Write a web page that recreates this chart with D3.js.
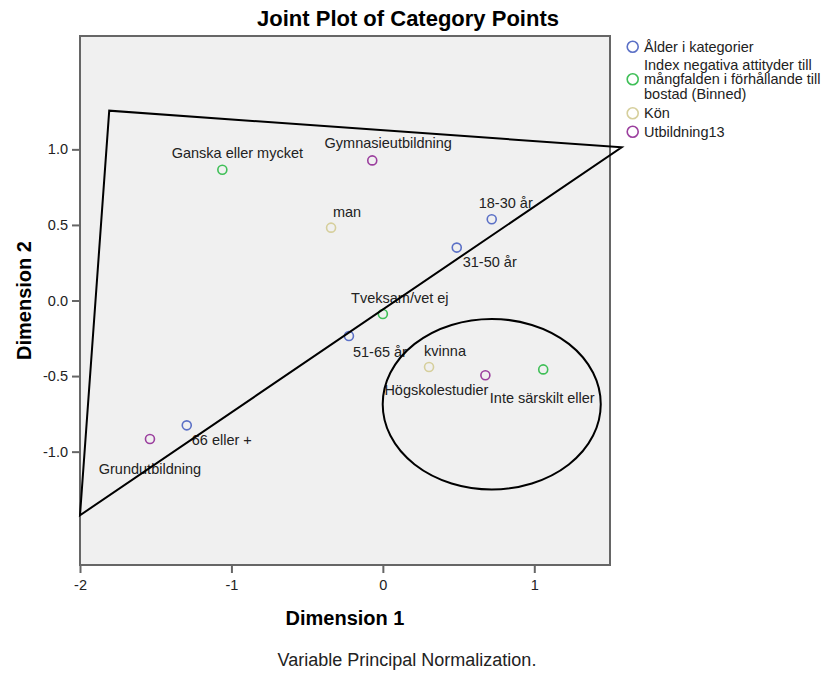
<!DOCTYPE html>
<html>
<head>
<meta charset="utf-8">
<script src="https://cdn.jsdelivr.net/npm/d3@7"></script>
<style>
body { margin:0; background:#fff; }
svg text { font-family: Arial, "Liberation Sans", sans-serif; }
</style>
</head>
<body>
<div id="chart"></div>
<script>
// variables (legend) and their colours
var variables = ["Ålder i kategorier", "Index negativa attityder till mångfalden i förhållande till bostad (Binned)", "Kön", "Utbildning13"];
var legendLines = [["Ålder i kategorier"], ["Index negativa attityder till", "mångfalden i förhållande till", "bostad (Binned)"], ["Kön"], ["Utbildning13"]];
var colors = ["#5b70c6", "#3fbf57", "#d6cf9c", "#9b3f9e"];

// category points
var labels = ["Ganska eller mycket", "Gymnasieutbildning", "man", "18-30 år", "31-50 år", "Tveksam/vet ej",
              "51-65 år", "66 eller +", "Grundutbildning", "kvinna", "Högskolestudier", "Inte särskilt eller"];
var group  = [1, 3, 2, 0, 0, 1, 0, 0, 3, 2, 3, 1];
var dim1   = [-1.060, -0.070, -0.342, 0.719, 0.488, 0.000, -0.224, -1.295, -1.538, 0.305, 0.677, 1.059];
var dim2   = [0.865, 0.927, 0.482, 0.538, 0.350, -0.089, -0.235, -0.826, -0.916, -0.440, -0.495, -0.456];
// where each label sits relative to its point (px)
var labelDx = [15, 16, 16, 14, 33, 17, 31, 35, 0, 16, -49, -1];
var labelDy = [-17, -17, -16, -16, 14, -16, 16, 15, 30, -16, 15, 29];

var xTicks = [-2, -1, 0, 1];
var yTicks = [-1.0, -0.5, 0.0, 0.5, 1.0];

// hand drawn annotations, in plot units
var triangle = [[-1.807, 1.256], [-2.0, -1.421], [1.577, 1.014]];
var ellipse = {cx: 0.719, cy: -0.686, rx: 0.720, ry: 0.564};

var svg = d3.select("#chart").append("svg")
    .attr("width", 828)
    .attr("height", 674);

var margin = {top: 36, left: 80},
    width = 530,
    height = 529;

var x = d3.scaleLinear().domain([-2, 1.5]).range([margin.left, margin.left + width]);
var y = d3.scaleLinear().domain([-1.75, 1.75]).range([margin.top + height, margin.top]);

// plain hyphen for negative numbers, like the original
var locale = d3.formatLocale({decimal: ".", thousands: ",", grouping: [3], currency: ["", ""], minus: "-"});

svg.append("rect")
    .attr("x", margin.left).attr("y", margin.top)
    .attr("width", width).attr("height", height)
    .attr("fill", "#f0f0f0")
    .attr("stroke", "#666").attr("stroke-width", 2);

var xAxis = d3.axisBottom(x).tickValues(xTicks).tickFormat(locale.format("d")).tickSize(8).tickPadding(6.5);
var yAxis = d3.axisLeft(y).tickValues(yTicks).tickFormat(locale.format(".1f")).tickSize(8).tickPadding(4);

var gx = svg.append("g")
    .attr("transform", "translate(0," + (margin.top + height) + ")")
    .call(xAxis);
var gy = svg.append("g")
    .attr("transform", "translate(" + margin.left + ",0)")
    .call(yAxis);

[gx, gy].forEach(function(g) {
  g.select(".domain").remove();
  g.selectAll(".tick line").attr("stroke", "#666").attr("stroke-width", 2);
  g.selectAll(".tick text").attr("fill", "#222").style("font-size", "14.5px")
    .style("font-family", "Arial, 'Liberation Sans', sans-serif");
});

// points
svg.append("g").selectAll("circle")
    .data(labels)
    .enter().append("circle")
    .attr("cx", function(d, i) { return x(dim1[i]); })
    .attr("cy", function(d, i) { return y(dim2[i]); })
    .attr("r", 4.5)
    .attr("fill", "none")
    .attr("stroke", function(d, i) { return colors[group[i]]; })
    .attr("stroke-width", 1.6);

svg.append("g").selectAll("text")
    .data(labels)
    .enter().append("text")
    .attr("x", function(d, i) { return x(dim1[i]) + labelDx[i]; })
    .attr("y", function(d, i) { return y(dim2[i]) + labelDy[i] + 5; })
    .attr("text-anchor", "middle")
    .attr("fill", "#222")
    .style("font-size", "14.5px")
    .text(function(d) { return d; });

// annotations drawn over the chart
svg.append("path")
    .datum(triangle)
    .attr("d", d3.line().x(function(d) { return x(d[0]); }).y(function(d) { return y(d[1]); }).curve(d3.curveLinearClosed))
    .attr("fill", "none").attr("stroke", "#000").attr("stroke-width", 2);

svg.append("ellipse")
    .attr("cx", x(ellipse.cx)).attr("cy", y(ellipse.cy))
    .attr("rx", x(ellipse.rx) - x(0)).attr("ry", y(0) - y(ellipse.ry))
    .attr("fill", "none").attr("stroke", "#000").attr("stroke-width", 2);

// titles
svg.append("text")
    .attr("x", 408).attr("y", 26)
    .attr("text-anchor", "middle")
    .style("font-size", "22px").style("font-weight", "bold")
    .text("Joint Plot of Category Points");

svg.append("text")
    .attr("x", margin.left + width / 2).attr("y", 625)
    .attr("text-anchor", "middle")
    .style("font-size", "20px").style("font-weight", "bold")
    .text("Dimension 1");

svg.append("text")
    .attr("transform", "translate(31," + (margin.top + height / 2) + ") rotate(-90)")
    .attr("text-anchor", "middle")
    .style("font-size", "20px").style("font-weight", "bold")
    .text("Dimension 2");

svg.append("text")
    .attr("x", 407).attr("y", 666)
    .attr("text-anchor", "middle")
    .attr("fill", "#222")
    .style("font-size", "18px")
    .text("Variable Principal Normalization.");

// legend
var legendCircleY = [46.7, 79.3, 113.3, 131.7];
var lineH = 14.5;
var legend = svg.append("g");
legendLines.forEach(function(lines, i) {
  legend.append("circle")
      .attr("cx", 632.7).attr("cy", legendCircleY[i]).attr("r", 5.5)
      .attr("fill", "none").attr("stroke", colors[i]).attr("stroke-width", 1.6);
  var top = legendCircleY[i] - (lines.length - 1) * lineH / 2;
  lines.forEach(function(line, j) {
    legend.append("text")
        .attr("x", 644).attr("y", top + j * lineH + 5)
        .attr("fill", "#222")
        .style("font-size", "14.5px")
        .text(line);
  });
});
</script>
</body>
</html>
